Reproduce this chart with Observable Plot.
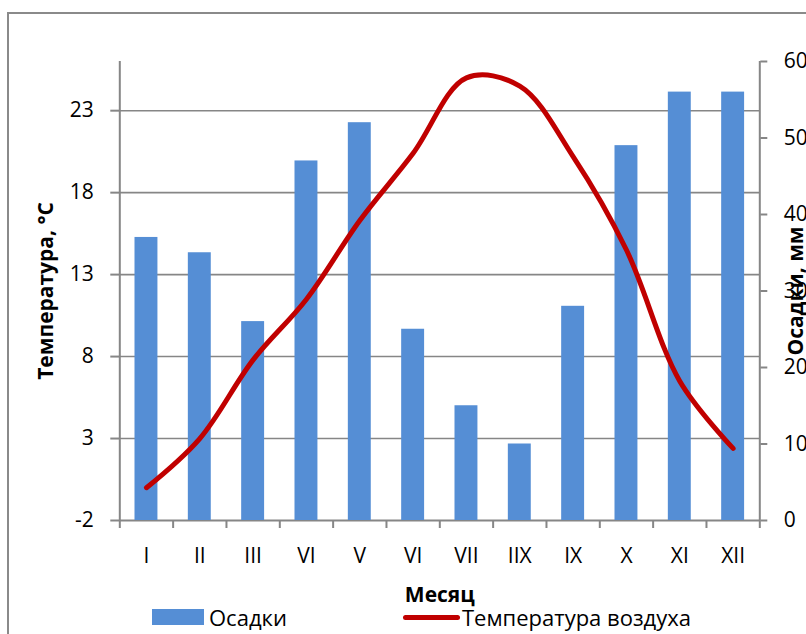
<!DOCTYPE html>
<html>
<head>
<meta charset="utf-8">
<script src="https://cdn.jsdelivr.net/npm/d3@7"></script>
<script src="https://cdn.jsdelivr.net/npm/@observablehq/plot@0.6"></script>
<style>
  html, body { margin: 0; padding: 0; background: #fff; }
  #wrap { position: relative; width: 806px; height: 634px; overflow: hidden; background: #fff;
          font-family: "Open Sans", "Liberation Sans", sans-serif; }
  #frame { position: absolute; left: 7px; top: 12px; width: 900px; height: 700px;
           border: 2px solid #8a8a8a; box-sizing: border-box; }
  .layer { position: absolute; left: 0; top: 0; }
  #legend { position: absolute; left: 0; top: 0; width: 806px; height: 634px; pointer-events: none; }
  .lg-item { position: absolute; display: flex; align-items: center; font-size: 22px; color: #000; }
</style>
</head>
<body>
<div id="wrap">
  <div id="frame"></div>
  <div id="legend"></div>
</div>
<script>
// ---- data ----
const months = ["I", "II", "III", "VI", "V", "VI", "VII", "IIX", "IX", "X", "XI", "XII"];
const precipitation = [37, 35, 26, 47, 52, 25, 15, 10, 28, 49, 56, 56];
const temperature = [0, 3, 7.8, 11.5, 16.3, 20.4, 25, 24.5, 20.2, 14.5, 6.5, 2.4];
const tempTicks = [-2, 3, 8, 13, 18, 23];
const precipTicks = [0, 10, 20, 30, 40, 50, 60];
const tempDomain = [-2, 26];
const precipDomain = [0, 60];
const seriesNames = ["Осадки", "Температура воздуха"];
const leftTitle = "Температура, °C";
const rightTitle = "Осадки, мм";
const xTitle = "Месяц";

const rows = months.map((m, i) => ({i, month: m, p: precipitation[i], t: temperature[i]}));

const W = 806, H = 634;
const margins = {marginLeft: 119.3, marginRight: 46.7, marginTop: 61, marginBottom: 114};
const gray = "#868686";
const barColor = "#558ed5";
const lineColor = "#c00000";
const font = "\"Open Sans\", \"Liberation Sans\", sans-serif";
const baseStyle = {position: "absolute", left: "0px", top: "0px", background: "transparent",
  fontFamily: font, fontSize: "21px", color: "#000", overflow: "visible"};

const wrap = document.getElementById("wrap");
const legendDiv = document.getElementById("legend");

// Layer 1: grid, left axis, x axis
const layer1 = Plot.plot({
  width: W, height: H, ...margins,
  style: baseStyle,
  x: {type: "linear", domain: [0, 12]},
  y: {domain: tempDomain},
  marks: [
    Plot.ruleY(tempTicks.filter(d => d > tempDomain[0]), {stroke: gray, strokeWidth: 1.6, strokeOpacity: 1}),
    Plot.axisY({anchor: "left", ticks: tempTicks, tickSize: 9, tickPadding: 17, stroke: gray,
      strokeWidth: 2, label: null, tickFormat: d => String(d), fill: "#000"}),
    Plot.axisX({ticks: d3.range(13), tickSize: 8, tickFormat: () => "", stroke: gray, strokeWidth: 2, label: null}),
    Plot.axisX({ticks: d3.range(12).map(i => i + 0.5), tickSize: 0, tickPadding: 28,
      tickFormat: d => months[Math.floor(d)], label: null, fill: "#000"}),
    Plot.ruleY([tempDomain[0]], {stroke: gray, strokeWidth: 2}),
    Plot.ruleX([0], {stroke: gray, strokeWidth: 2}),
    Plot.text([leftTitle], {frameAnchor: "left", dx: -74, rotate: -90, fontWeight: "bold",
      fontSize: 21, textAnchor: "middle", lineAnchor: "middle", fill: "#000"}),
    Plot.text([xTitle], {frameAnchor: "bottom", dy: 75, fontWeight: "bold",
      fontSize: 21, textAnchor: "middle", lineAnchor: "middle", fill: "#000"})
  ]
});
layer1.classList.add("layer");
wrap.appendChild(layer1);

// Layer 2: bars + right axis
const layer2 = Plot.plot({
  width: W, height: H, ...margins,
  style: baseStyle,
  x: {type: "linear", domain: [0, 12], axis: null},
  y: {domain: precipDomain},
  marks: [
    Plot.rectY(rows, {x1: d => d.i, x2: d => d.i + 1, y: "p", insetLeft: 15.2, insetRight: 15.2, fill: barColor}),
    Plot.axisY({anchor: "right", ticks: precipTicks, tickSize: 7, tickPadding: 17, stroke: gray,
      strokeWidth: 2, label: null, fill: "#000"}),
    Plot.ruleX([12], {stroke: gray, strokeWidth: 2}),
    Plot.text([rightTitle], {frameAnchor: "right", dx: 36, rotate: -90, fontWeight: "bold",
      fontSize: 21, textAnchor: "middle", lineAnchor: "middle", fill: "#000"})
  ]
});
layer2.classList.add("layer");
wrap.appendChild(layer2);

// Layer 3: temperature line
const layer3 = Plot.plot({
  width: W, height: H, ...margins,
  style: baseStyle,
  x: {type: "linear", domain: [0, 12], axis: null},
  y: {domain: tempDomain, axis: null},
  marks: [
    Plot.line(rows, {x: d => d.i + 0.5, y: "t", curve: "catmull-rom", stroke: lineColor,
      strokeWidth: 5, strokeLinecap: "round", strokeLinejoin: "round"})
  ]
});
layer3.classList.add("layer");
wrap.appendChild(layer3);

wrap.appendChild(legendDiv);

// Legend (HTML)
legendDiv.innerHTML = `
  <div class="lg-item" style="left:152px; top:602px;">
    <span style="display:inline-block; width:52px; height:16px; background:${barColor}; margin-right:5px;"></span>
    <span>${seriesNames[0]}</span>
  </div>
  <div class="lg-item" style="left:403px; top:602px;">
    <span style="display:inline-block; width:57px; height:5px; border-radius:3px; background:${lineColor}; margin-right:2px;"></span>
    <span>${seriesNames[1]}</span>
  </div>`;
</script>
</body>
</html>
